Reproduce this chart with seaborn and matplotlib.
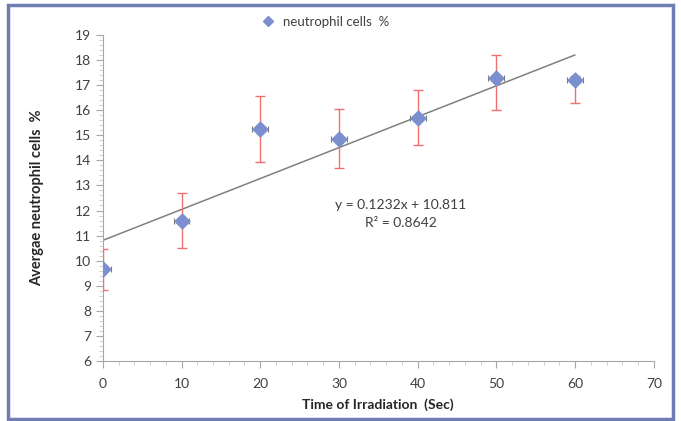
import numpy as np
import pandas as pd
import seaborn as sns
import matplotlib.pyplot as plt
from matplotlib.patches import Rectangle
from matplotlib.ticker import MultipleLocator
from matplotlib.lines import Line2D

# data
time_sec = [0, 10, 20, 30, 40, 50, 60]
neutro_pct = [9.65, 11.6, 15.25, 14.85, 15.7, 17.3, 17.2]
err_low = [0.8, 1.1, 1.3, 1.15, 1.1, 1.3, 0.9]
err_high = [0.8, 1.1, 1.3, 1.2, 1.1, 0.9, 0.15]
time_err = [1, 1, 1, 1, 1, 1, 1]
eq_text = "y = 0.1232x + 10.811"
r2_text = "R² = 0.8642"

df = pd.DataFrame({"time": time_sec, "pct": neutro_pct})

sns.set_style("white")
plt.rcParams['font.family'] = ['Lato', 'DejaVu Sans']

pt_color = "#7b8fd0"
err_color = "#f07070"
txt_color = "#404040"

fig = plt.figure(figsize=(6.81, 4.21), dpi=100)
ax = fig.add_axes([0.151, 0.1425, 0.809, 0.7745])

# trend line from a least squares fit of the points
sns.regplot(data=df, x="time", y="pct", ax=ax, scatter=False, ci=None,
            truncate=True, line_kws={"color": "#808080", "lw": 1.1})

ax.errorbar(time_sec, neutro_pct, yerr=[err_low, err_high], fmt="none",
            ecolor=err_color, elinewidth=1, capsize=3.5, capthick=1, zorder=3)
ax.errorbar(time_sec, neutro_pct, xerr=time_err, fmt="none",
            ecolor="#7a7a7a", elinewidth=0.8, capsize=2.5, capthick=0.8, zorder=3)
sns.scatterplot(data=df, x="time", y="pct", ax=ax, marker="D", s=62,
                color=pt_color, edgecolor=pt_color, zorder=4)

ax.set_xlim(0, 70)
ax.set_ylim(6, 19)
ax.xaxis.set_major_locator(MultipleLocator(10))
ax.xaxis.set_minor_locator(MultipleLocator(2))
ax.yaxis.set_major_locator(MultipleLocator(1))
ax.yaxis.set_minor_locator(MultipleLocator(0.2))
ax.tick_params(which="major", direction="out", length=5, width=0.8,
               color="#a6a6a6", labelsize=10, labelcolor=txt_color, bottom=True, left=True)
ax.tick_params(axis="x", which="major", pad=7)
ax.tick_params(which="minor", direction="out", length=3, width=0.6,
               color="#c8c8c8", bottom=True, left=True)

for side in ["top", "right"]:
    ax.spines[side].set_visible(False)
for side in ["left", "bottom"]:
    ax.spines[side].set_color("#a6a6a6")
    ax.spines[side].set_linewidth(0.8)

ax.set_xlabel("Time of Irradiation  (Sec)", fontsize=10, fontweight="bold",
              color="#262626", labelpad=6)
ax.set_ylabel("Avergae neutrophil cells  %", fontsize=10.5, fontweight="bold",
              color="#262626", labelpad=22)

ax.text(37.9, 12.2, eq_text, ha="center", va="center", fontsize=10, color=txt_color)
ax.text(37.9, 11.5, r2_text, ha="center", va="center", fontsize=10, color=txt_color)

handle = Line2D([], [], marker="D", linestyle="none", color=pt_color, markersize=5.5)
fig.legend([handle], ["neutrophil cells  %"], loc="center",
           bbox_to_anchor=(322 / 681, 1 - 22 / 421), frameon=False,
           fontsize=9.5, handletextpad=0.1, labelcolor=txt_color)

fig.patches.append(Rectangle((0.0117, 0.005), 0.976, 0.983, transform=fig.transFigure,
                             fill=False, edgecolor="#6f7db0", linewidth=2.5))

fig.savefig("out.png", dpi=100)
